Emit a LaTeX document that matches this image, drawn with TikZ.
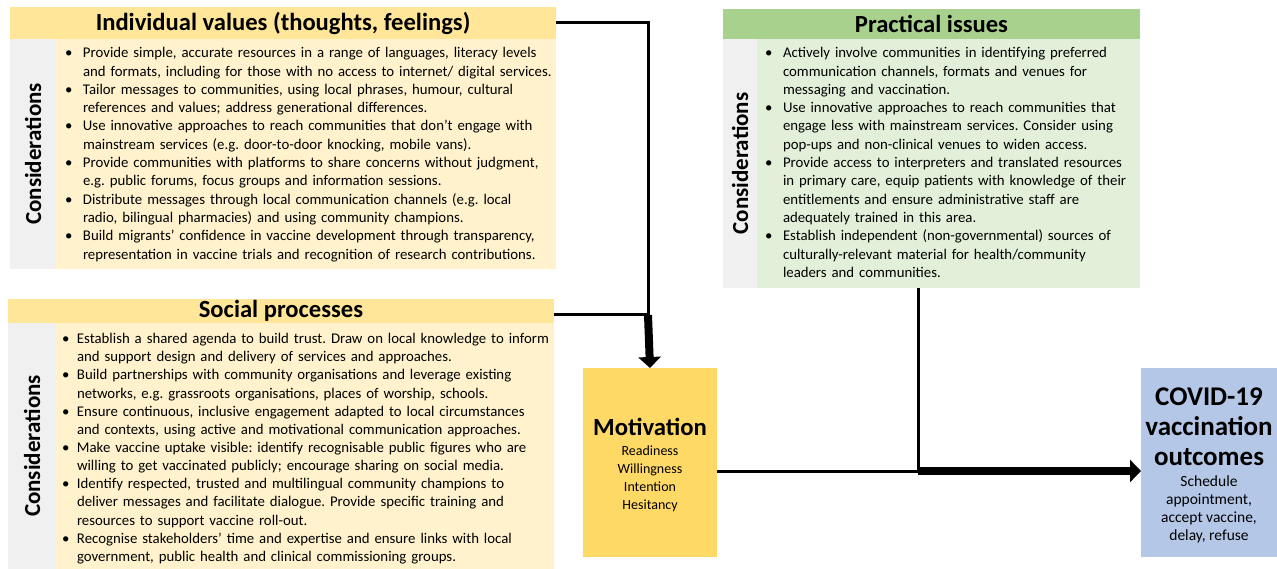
\documentclass[tikz,border=0pt]{standalone}
\usepackage{fontspec}
\setmainfont{Carlito}
\usetikzlibrary{arrows.meta}
\definecolor{indhead}{HTML}{FFE699}
\definecolor{indbody}{HTML}{FFF2CC}
\definecolor{graystrip}{HTML}{F0F0F0}
\definecolor{prachead}{HTML}{A9D18E}
\definecolor{pracbody}{HTML}{E2F0D9}
\definecolor{motfill}{HTML}{FFD966}
\definecolor{covfill}{HTML}{B4C7E7}
\frenchspacing
\newcommand\bitem[1]{\par\noindent\hangindent=#1\hangafter=1\makebox[#1][l]{\textbullet}\ignorespaces}
\begin{document}
\begin{tikzpicture}[x=1pt,y=-1pt,
  area/.style={draw=none,inner sep=0pt,outer sep=0pt},
  headtxt/.style={area,font=\fontsize{24.6}{28}\selectfont\bfseries},
  considtxt/.style={area,rotate=90,font=\fontsize{23}{27}\selectfont\bfseries},
  bodytxt/.style={anchor=north west,inner sep=0pt,outer sep=0pt,font=\fontsize{14.8}{18.3}\selectfont},
  conn/.style={line width=3pt},
  bigarrow/.style={line width=8pt,-{Triangle[width=22pt,length=11pt]}}
]
\useasboundingbox (0,0) rectangle (1277,569);
\fill[white] (0,0) rectangle (1277,569);

% ---------- Individual values ----------
\node[area,fill=indbody,anchor=north west,minimum width=546pt,minimum height=230pt] (indb) at (10,39) {};
\node[considtxt,fill=graystrip,minimum width=230pt,minimum height=46pt] (indg) at (33,154) {Considerations};
\node[headtxt,fill=indhead,anchor=north west,minimum width=546pt,minimum height=32pt] (indh) at (10,7) {Individual values (thoughts, feelings)};
\node[bodytxt,text width=490pt] (indt) at (65,39.5) {\raggedright
\bitem{18pt}Provide simple, accurate resources in a range of languages, literacy levels\newline and formats, including for those with no access to internet/ digital services.
\bitem{18pt}Tailor messages to communities, using local phrases, humour, cultural\newline references and values; address generational differences.
\bitem{18pt}Use innovative approaches to reach communities that don’t engage with\newline mainstream services (e.g. door-to-door knocking, mobile vans).
\bitem{18pt}Provide communities with platforms to share concerns without judgment,\newline e.g. public forums, focus groups and information sessions.
\bitem{18pt}Distribute messages through local communication channels (e.g. local\newline radio, bilingual pharmacies) and using community champions.
\bitem{18pt}Build migrants’ confidence in vaccine development through transparency,\newline representation in vaccine trials and recognition of research contributions.\par};

% ---------- Social processes ----------
\node[area,fill=indbody,anchor=north west,minimum width=546pt,minimum height=246pt] (socb) at (8,323) {};
\node[considtxt,fill=graystrip,minimum width=246pt,minimum height=48pt] (socg) at (32,446) {Considerations};
\node[headtxt,fill=indhead,anchor=north west,minimum width=546pt,minimum height=24pt] (soch) at (8,299) {Social processes};
\node[bodytxt,text width=490pt,font=\fontsize{14.8}{18.15}\selectfont] (soct) at (62,325.5) {\raggedright
\bitem{15pt}Establish a shared agenda to build trust. Draw on local knowledge to inform\newline and support design and delivery of services and approaches.
\bitem{15pt}Build partnerships with community organisations and leverage existing\newline networks, e.g. grassroots organisations, places of worship, schools.
\bitem{15pt}Ensure continuous, inclusive engagement adapted to local circumstances\newline and contexts, using active and motivational communication approaches.
\bitem{15pt}Make vaccine uptake visible: identify recognisable public figures who are\newline willing to get vaccinated publicly; encourage sharing on social media.
\bitem{15pt}Identify respected, trusted and multilingual community champions to\newline deliver messages and facilitate dialogue. Provide specific training and\newline resources to support vaccine roll-out.
\bitem{15pt}Recognise stakeholders’ time and expertise and ensure links with local\newline government, public health and clinical commissioning groups.\par};

% ---------- Practical issues ----------
\node[area,fill=pracbody,anchor=north west,minimum width=417pt,minimum height=249pt] (pracb) at (723,39) {};
\node[considtxt,fill=graystrip,minimum width=249pt,minimum height=34pt] (pracg) at (740,163.5) {Considerations};
\node[headtxt,fill=prachead,anchor=north west,minimum width=417pt,minimum height=30pt] (prach) at (723,9) {Practical issues};
\node[bodytxt,text width=370pt] (pract) at (765,39.5) {\raggedright
\bitem{18pt}Actively involve communities in identifying preferred\newline communication channels, formats and venues for\newline messaging and vaccination.
\bitem{18pt}Use innovative approaches to reach communities that\newline engage less with mainstream services. Consider using\newline pop-ups and non-clinical venues to widen access.
\bitem{18pt}Provide access to interpreters and translated resources\newline in primary care, equip patients with knowledge of their\newline entitlements and ensure administrative staff are\newline adequately trained in this area.
\bitem{18pt}Establish independent (non-governmental) sources of\newline culturally-relevant material for health/community\newline leaders and communities.\par};

% ---------- Motivation ----------
\node[area,fill=motfill,minimum width=134pt,minimum height=189pt] (mot) at (650,462.5) {};
\node[font=\fontsize{24.7}{28}\selectfont\bfseries,inner sep=0pt] (motT) at (650,427) {Motivation};
\node[align=center,font=\fontsize{14}{18}\selectfont,inner sep=0pt] (motL) at (650,479) {Readiness\\Willingness\\Intention\\Hesitancy};

% ---------- COVID-19 outcomes ----------
\node[area,fill=covfill,minimum width=136pt,minimum height=189pt] (cov) at (1209,462.5) {};
\node[align=center,font=\fontsize{27}{30}\selectfont\bfseries,inner sep=0pt] (covT) at (1209,427) {COVID-19\\vaccination\\outcomes};
\node[align=center,font=\fontsize{15.5}{18}\selectfont,inner sep=0pt] (covL) at (1209,509) {Schedule\\appointment,\\accept vaccine,\\delay, refuse};

% ---------- Connectors ----------
\coordinate (j1) at (648,315);
\coordinate (j2) at (918,471);
\draw[conn] (indh.east) -| (j1);
\draw[conn] (soch.east |- j1) -- (j1);
\draw[bigarrow] (j1) -- (mot.north);
\draw[conn] (mot.east |- j2) -- (j2);
\draw[conn] (pracb.south -| j2) -- (j2);
\draw[bigarrow] (j2) -- (cov.west |- j2);
\end{tikzpicture}
\end{document}
